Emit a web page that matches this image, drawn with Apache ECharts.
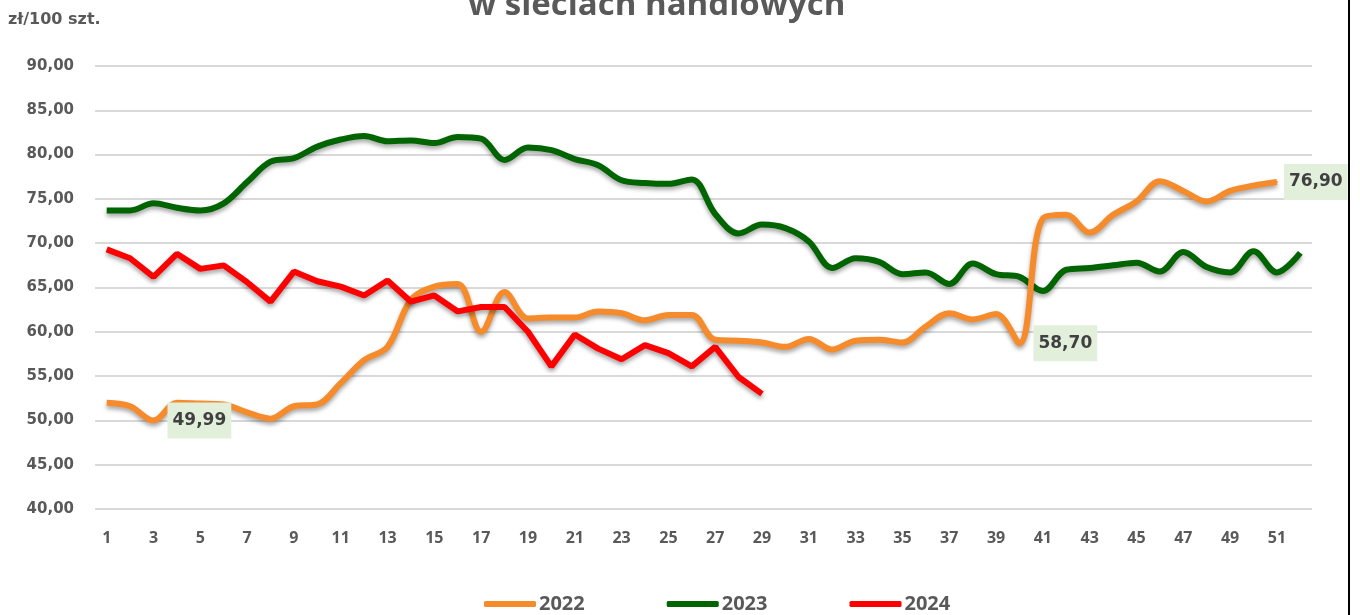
<!DOCTYPE html>
<html>
<head>
<meta charset="utf-8">
<script src="https://cdn.jsdelivr.net/npm/echarts@6/dist/echarts.min.js"></script>
<style>
html,body{margin:0;padding:0;background:#fff;}
#c{width:1360px;height:615px;}
</style>
</head>
<body>
<div id="c"></div>
<script>
var weeks = [];
for (var i = 1; i <= 52; i++) weeks.push(String(i));

var s2022 = [52.0, 51.6, 49.99, 52.0, 51.9, 51.8, 50.9, 50.2, 51.6, 51.8,
  54.2, 56.8, 58.3, 63.6, 65.1, 65.4, 60.0, 64.5, 61.5, 61.6,
  61.6, 62.3, 62.1, 61.3, 61.9, 61.9, 59.1, 59.0, 58.8, 58.3,
  59.2, 58.0, 59.0, 59.1, 58.8, 60.6, 62.1, 61.4, 62.0, 58.70,
  72.8, 73.2, 71.2, 73.2, 74.7, 77.0, 75.9, 74.7, 75.9, 76.5, 76.90];

var s2023 = [73.7, 73.7, 74.5, 74.0, 73.7, 74.5, 76.9, 79.2, 79.6, 80.9,
  81.7, 82.1, 81.5, 81.6, 81.3, 82.0, 81.8, 79.4, 80.8, 80.5,
  79.5, 78.8, 77.1, 76.8, 76.7, 77.2, 73.3, 71.1, 72.1, 71.7,
  70.2, 67.2, 68.3, 67.9, 66.5, 66.7, 65.4, 67.7, 66.5, 66.2,
  64.6, 67.0, 67.2, 67.5, 67.8, 66.8, 69.0, 67.3, 66.7, 69.1, 66.7, 68.9];

var s2024 = [69.3, 68.3, 66.2, 68.8, 67.1, 67.5, 65.6, 63.4, 66.8, 65.7,
  65.1, 64.1, 65.8, 63.4, 64.1, 62.3, 62.8, 62.8, 60.0, 56.1,
  59.7, 58.1, 56.9, 58.5, 57.6, 56.1, 58.3, 54.9, 53.0];

var seriesNames = ['2022', '2023', '2024'];
var labelled2022 = [3, 40, 51];
var yTicks = { min: 40, max: 90, step: 5 };

function fmt(v) { return v.toFixed(2).replace('.', ','); }

function labelStyle(dist) {
  return {
    show: true, position: 'right', distance: dist,
    backgroundColor: '#E2EFDA', padding: [10, 5, 9, 5],
    color: '#404040', fontWeight: 'bold', fontSize: 17,
    fontFamily: 'DejaVu Sans',
    formatter: function (p) { return fmt(p.value); }
  };
}
var labelDist = { 3: 13, 40: 13, 51: 6 };

var d2022 = s2022.map(function (v, i) {
  var w = i + 1;
  if (labelled2022.indexOf(w) >= 0) {
    return { value: v, symbol: 'circle', symbolSize: 2, label: labelStyle(labelDist[w]) };
  }
  return { value: v, symbol: 'none' };
});

var shadow = { shadowColor: 'rgba(0,0,0,0.35)', shadowBlur: 4, shadowOffsetY: 3 };

var chart = echarts.init(document.getElementById('c'), null, { renderer: 'canvas' });
chart.setOption({
  animation: false,
  backgroundColor: '#ffffff',
  textStyle: { fontFamily: 'DejaVu Sans' },
  title: {
    text: 'w sieciach handlowych',
    left: 463, top: -16,
    textStyle: { fontSize: 33, fontWeight: 'bold', color: '#595959', fontFamily: 'Open Sans' }
  },
  graphic: [
    { type: 'text', left: 8, top: 12,
      style: { text: 'zł/100 szt.', fontSize: 16, fontWeight: 'bold', fill: '#595959', fontFamily: 'DejaVu Sans' } },
    { type: 'rect', shape: { x: 1348, y: 0, width: 2, height: 615 }, style: { fill: '#000' }, z: 100 }
  ],
  grid: { left: 95, right: 48, top: 66, bottom: 106 },
  legend: {
    data: seriesNames,
    left: 479, top: 589,
    itemGap: 82,
    itemWidth: 52, itemHeight: 6,
    icon: 'roundRect',
    textStyle: { fontSize: 20, fontWeight: 'bold', color: '#595959', fontFamily: 'Open Sans', padding: [0, 0, 0, -2] }
  },
  xAxis: {
    type: 'category', data: weeks, boundaryGap: true,
    axisLine: { show: false }, axisTick: { show: false },
    axisLabel: { interval: 1, margin: 21, fontSize: 16, fontWeight: 'bold', color: '#595959', fontFamily: 'Open Sans' }
  },
  yAxis: {
    type: 'value', min: yTicks.min, max: yTicks.max, interval: yTicks.step,
    axisLine: { show: false }, axisTick: { show: false },
    axisLabel: { margin: 21, fontSize: 15, fontWeight: 'bold', color: '#595959', fontFamily: 'DejaVu Sans',
      formatter: function (v) { return fmt(v); } },
    splitLine: { lineStyle: { color: '#D9D9D9', width: 2 } }
  },
  series: [
    { name: '2022', type: 'line', data: d2022, smooth: 0.35, showSymbol: true, showAllSymbol: true,
      itemStyle: { color: '#F68B2C' },
      color: '#F68B2C', lineStyle: Object.assign({ width: 6, color: '#F68B2C' }, shadow), z: 3 },
    { name: '2023', type: 'line', data: s2023, smooth: 0.35, symbol: 'none',
      color: '#006400', lineStyle: Object.assign({ width: 6, color: '#006400' }, shadow), z: 2 },
    { name: '2024', type: 'line', data: s2024, smooth: false, symbol: 'none',
      color: '#FF0000', lineStyle: Object.assign({ width: 6, color: '#FF0000' }, shadow), z: 4 }
  ]
});
</script>
</body>
</html>
